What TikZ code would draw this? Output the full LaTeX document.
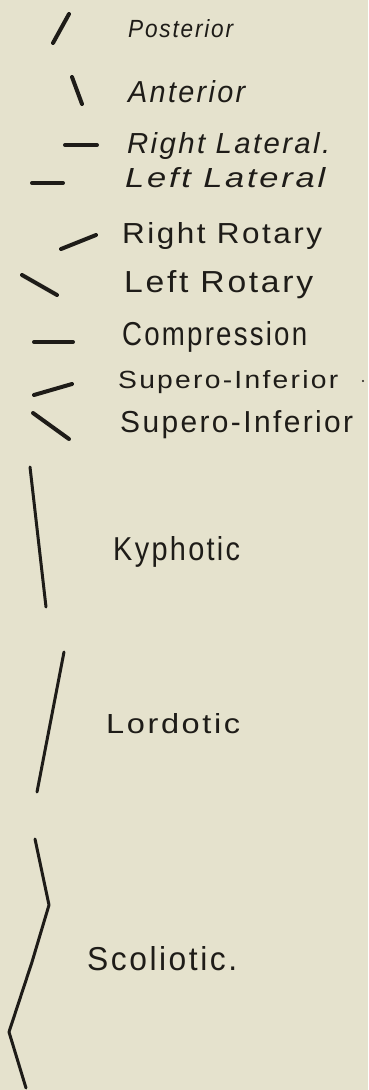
\documentclass[tikz,border=0pt]{standalone}
\usepackage{fontspec}
\setmainfont{Liberation Sans}
\newfontfamily\hand[LetterSpace=8]{Liberation Sans}
\definecolor{paper}{RGB}{229,226,205}
\definecolor{ink}{RGB}{30,28,24}
\newcommand{\hw}[3]{\resizebox{#1pt}{#2pt}{\hand #3}}
\begin{document}
\begin{tikzpicture}[x=1pt,y=-1pt,
  tick/.style={draw=ink,line width=4pt,line cap=round},
  stroke/.style={draw=ink,line width=3pt,line cap=round,line join=round},
  lab/.style={anchor=base west,inner sep=0pt,text=ink}]
\fill[paper] (0,0) rectangle (368,1090);
\useasboundingbox (0,0) rectangle (368,1090);
% short marks
\draw[tick] (53,43) -- (69,14);
\draw[tick] (72,77) -- (82,104);
\draw[tick] (65,145) -- (97,145);
\draw[tick] (32,183) -- (63,183);
\draw[tick] (61,249) -- (96,235);
\draw[tick] (22,275) -- (57,295);
\draw[tick] (34,342) -- (73,342);
\draw[tick] (34,395) -- (72,384);
\draw[tick] (33,413) -- (69,439);
% long strokes
\draw[stroke] (30,467) -- (46,607);
\draw[stroke] (64,652) -- (37,792);
\draw[stroke] (35,839) -- (49,905) -- (32,962) -- (9,1032) -- (26,1088);
% labels
\node[lab] (post) at (128,37) {\hw{105}{18}{\itshape Posterior}};
\node[lab] (ant) at (128,102) {\hw{117}{22}{\itshape Anterior}};
\node[lab] (rlat) at (127,153) {\hw{203}{21}{\itshape Right Lateral.}};
\node[lab] (llat) at (125,187) {\hw{200}{20}{\itshape Left Lateral}};
\node[lab] (rrot) at (122,243) {\hw{200}{21}{Right Rotary}};
\node[lab] (lrot) at (124,292) {\hw{189}{22}{Left Rotary}};
\node[lab] (comp) at (122,345) {\hw{185}{24}{Compression}};
\node[lab] (sup1) at (118,388) {\hw{220}{18}{Supero-Inferior}};
\fill[ink] (363,381) circle (1.2pt) coordinate (dot);
\node[lab] (sup2) at (120,432) {\hw{233}{22}{Supero-Inferior}};
\node[lab] (kyph) at (113,560) {\hw{127}{24}{Kyphotic}};
\node[lab] (lord) at (106,733) {\hw{134}{20}{Lordotic}};
\node[lab] (scol) at (87,970) {\hw{150}{24}{Scoliotic.}};
\end{tikzpicture}
\end{document}
